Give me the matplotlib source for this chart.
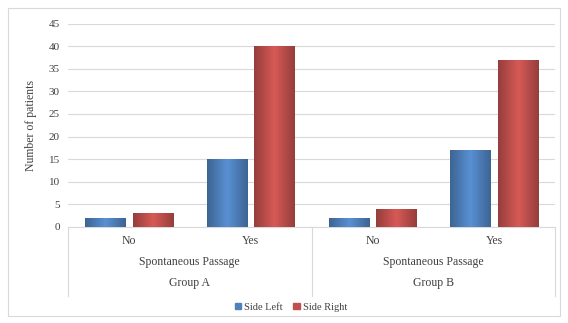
import matplotlib
matplotlib.use("Agg")
import matplotlib.pyplot as plt
import numpy as np
from matplotlib.patches import Rectangle
from matplotlib.colors import LinearSegmentedColormap
from matplotlib.lines import Line2D
from matplotlib.transforms import blended_transform_factory

plt.rcParams['font.family'] = ['Liberation Serif', 'DejaVu Serif']

categories = ["No", "Yes", "No", "Yes"]
groups = ["Group A", "Group B"]
group_title = "Spontaneous Passage"
side_left = [2, 15, 2, 17]
side_right = [3, 40, 4, 37]
series_names = ["Side Left", "Side Right"]
y_ticks = list(range(0, 46, 5))

blue = "#4F81BD"
red = "#C0504D"
text_col = "#404040"
grid_col = "#D9D9D9"

fig = plt.figure(figsize=(5.68, 3.23), dpi=100)
fig.patches.append(Rectangle((8 / 568, 1 - 316 / 323), 552 / 568, 308 / 323,
                             transform=fig.transFigure, fill=False,
                             edgecolor=grid_col, linewidth=0.8))

ax = fig.add_axes([68 / 568, 1 - 227 / 323, 487 / 568, (227 - 23.5) / 323])

x = np.arange(len(categories))
width = 0.33
offset = 0.195


def shaded_bars(xs, vals, color):
    bars = ax.bar(xs, vals, width, color=color, edgecolor=color, linewidth=0.6, zorder=3)
    base = np.array(matplotlib.colors.to_rgb(color))
    cmap = LinearSegmentedColormap.from_list(
        "shade", [base * 0.78, np.minimum(base * 1.12, 1), base * 0.78])
    grad = np.linspace(0, 1, 64).reshape(1, -1)
    for b in bars:
        x0, y0 = b.get_x(), b.get_y()
        w, h = b.get_width(), b.get_height()
        im = ax.imshow(grad, cmap=cmap, aspect='auto', extent=(x0, x0 + w, y0, y0 + h),
                       zorder=3.5, interpolation='bilinear')
        im.set_clip_path(b)
    return bars


shaded_bars(x - offset, side_left, blue)
shaded_bars(x + offset, side_right, red)

ax.set_xlim(-0.5, len(categories) - 0.5)
ax.set_ylim(0, 45)
ax.set_yticks(y_ticks)
ax.tick_params(axis='y', length=0, labelsize=8, colors=text_col, pad=6)
ax.set_xticks([])
ax.yaxis.grid(True, color=grid_col, linewidth=0.8)
ax.set_axisbelow(True)
for s in ["top", "right", "left"]:
    ax.spines[s].set_visible(False)
ax.spines["bottom"].set_color(grid_col)
ax.set_ylabel("Number of patients", fontsize=8.5, color=text_col, labelpad=8)

# Multi-level category axis
fs = 8.5
trans = blended_transform_factory(ax.transData, fig.transFigure)
for xi, lab in zip(x, categories):
    ax.text(xi, 1 - 241 / 323, lab, transform=trans, ha='center', va='center',
            fontsize=fs, color=text_col)
for gi, g in enumerate(groups):
    cx = 2 * gi + 0.5
    ax.text(cx, 1 - 262 / 323, group_title, transform=trans, ha='center', va='center',
            fontsize=fs, color=text_col)
    ax.text(cx, 1 - 283 / 323, g, transform=trans, ha='center', va='center',
            fontsize=fs, color=text_col)
for sx in [-0.5, 1.5, 3.5]:
    ax.add_line(Line2D([sx, sx], [1 - 227 / 323, 1 - 296 / 323], transform=trans,
                       color=grid_col, linewidth=0.8, clip_on=False))

handles = [Rectangle((0, 0), 1, 1, color=blue), Rectangle((0, 0), 1, 1, color=red)]
fig.legend(handles, series_names, loc='center', bbox_to_anchor=(291 / 568, 1 - 307 / 323),
           ncol=2, frameon=False, fontsize=7.5, handlelength=0.6, handleheight=0.6,
           handletextpad=0.3, columnspacing=1.0, labelcolor=text_col)

fig.savefig("out.png", dpi=100)
